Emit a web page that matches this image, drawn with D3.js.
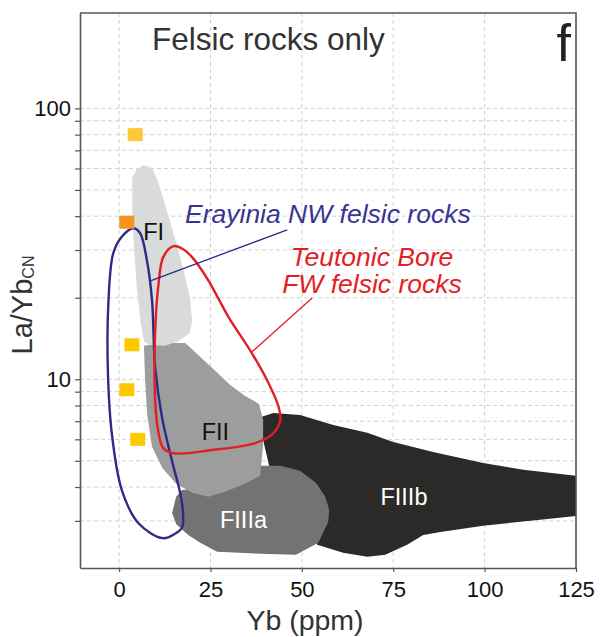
<!DOCTYPE html>
<html>
<head>
<meta charset="utf-8">
<script src="https://cdn.jsdelivr.net/npm/d3@7"></script>
<style>
  html, body { margin: 0; padding: 0; background: #fff; }
  svg { display: block; font-family: "Liberation Sans", Arial, sans-serif; }
</style>
</head>
<body>
<svg id="chart" width="600" height="637"></svg>
<script>
// Axis ticks
const xTicks = [0, 25, 50, 75, 100, 125];
const yLabelled = [10, 100];
const yGrid = [3, 4, 5, 6, 7, 8, 9, 10, 20, 30, 40, 50, 60, 70, 80, 90, 100];

// Felsic rock fields, [Yb ppm, La/Yb_CN]
const fieldFIIIb = [[38.0,7.20],[42.2,7.51],[49.5,7.38],[58.6,6.78],[67.9,6.34],[75.0,5.87],[85.9,5.39],[99.6,4.91],[110.6,4.63],[125.5,4.40],[125.5,3.13],[115.2,3.03],[99.6,2.88],[87.9,2.73],[83.2,2.66],[78.8,2.45],[72.8,2.25],[67.9,2.21],[61.3,2.29],[54.2,2.45],[49.5,3.03],[41.3,4.63]];
const fieldFIIIa = [[15.6,3.68],[17.2,3.90],[22.2,3.97],[30.4,4.25],[38.6,4.79],[44.1,4.79],[49.5,4.59],[53.9,4.14],[56.4,3.68],[57.5,3.29],[57.2,2.97],[54.5,2.49],[48.4,2.25],[38.6,2.27],[26.8,2.31],[22.2,2.49],[18.9,2.66],[15.6,2.92],[14.5,3.21]];
const fieldFII = [[6.8,13.3],[12.6,13.6],[18.1,13.6],[24.9,11.2],[30.4,9.53],[34.5,8.68],[38.3,8.11],[39.4,7.08],[39.4,5.72],[38.6,4.40],[34.8,4.14],[29.6,3.87],[24.4,3.68],[20.0,3.81],[15.6,4.11],[11.8,4.71],[9.0,5.63],[7.7,7.38],[7.1,9.94]];
const fieldFI = [[3.6,55.3],[4.7,59.2],[6.6,61.8],[9.0,60.2],[10.7,53.5],[12.6,44.0],[15.1,33.8],[17.5,25.7],[19.4,19.95],[20.0,16.3],[19.2,14.8],[16.2,13.8],[12.6,13.3],[8.2,13.4],[6.8,13.8],[5.8,16.6],[4.9,21.4],[4.1,30.0],[3.6,42.1]];

// Outlines of the two sample groups
const erayiniaNW = [[3.9,36.1],[5.75,34.6],[7.6,27.5],[9.0,19.6],[9.85,11.1],[11.7,7.28],[14.4,5.04],[16.7,3.80],[17.5,3.20],[17.2,2.83],[15.3,2.69],[12.0,2.59],[5.3,2.94],[0.74,3.90],[-2.0,6.32],[-3.1,11.1],[-2.9,19.6],[-1.6,29.2],[0.74,33.6]];
const teutonicFW = [[14.9,31.0],[17.2,30.4],[19.9,28.3],[24.4,23.2],[29.9,17.0],[36.3,12.5],[40.9,9.67],[43.6,7.93],[44.1,7.08],[42.2,6.32],[37.2,5.81],[25.4,5.48],[14.9,5.33],[12.1,5.57],[10.8,6.32],[9.85,8.39],[9.85,14.8],[10.8,22.6],[12.1,28.3]];

// Felsic samples
const samplesYb = [4.4, 2.1, 3.5, 2.1, 5.1];
const samplesLaYb = [80, 38, 13.4, 9.15, 6.0];
const samplesColor = ["#fec936", "#f7941d", "#fdc800", "#fdc800", "#fdc800"];

const svg = d3.select("#chart");
const mLeft = 80, mRight = 576, mTop = 13, mBottom = 568;

const x = d3.scaleLinear().domain([-10.7, 125]).range([mLeft, mRight]);
const y = d3.scaleLog().domain([2.01, 225]).range([mBottom, mTop]);

svg.append("defs").append("clipPath").attr("id", "plotclip")
  .append("rect").attr("x", mLeft).attr("y", mTop)
  .attr("width", mRight - mLeft).attr("height", mBottom - mTop);

// dashed grid
const grid = svg.append("g").attr("stroke", "#d2d2d2").attr("stroke-width", 1)
  .attr("stroke-dasharray", "4,3");
grid.selectAll("line.v").data(xTicks.filter(d => d < 125)).join("line")
  .attr("class", "v")
  .attr("x1", d => x(d)).attr("x2", d => x(d))
  .attr("y1", mTop).attr("y2", mBottom);
grid.selectAll("line.h").data(yGrid).join("line")
  .attr("class", "h")
  .attr("x1", mLeft).attr("x2", mRight)
  .attr("y1", d => y(d)).attr("y2", d => y(d));

const plot = svg.append("g").attr("clip-path", "url(#plotclip)");
const poly = d3.line().x(d => x(d[0])).y(d => y(d[1])).curve(d3.curveLinearClosed);
const smooth = d3.line().x(d => x(d[0])).y(d => y(d[1])).curve(d3.curveCatmullRomClosed.alpha(0.5));

const fields = [
  { pts: fieldFIIIb, fill: "#2b2a29" },
  { pts: fieldFIIIa, fill: "#737373" },
  { pts: fieldFII, fill: "#9c9d9d" },
  { pts: fieldFI, fill: "#d9dada" }
];
plot.selectAll("path.field").data(fields).join("path")
  .attr("class", "field")
  .attr("d", d => poly(d.pts))
  .attr("fill", d => d.fill);

// field names
const fieldLabels = [
  { t: "FI", x: 6.6, y: 32.7, c: "#111" },
  { t: "FII", x: 22.6, y: 5.98, c: "#111" },
  { t: "FIIIa", x: 27.6, y: 2.82, c: "#fff" },
  { t: "FIIIb", x: 71.5, y: 3.42, c: "#fff" }
];
svg.selectAll("text.field").data(fieldLabels).join("text")
  .attr("class", "field")
  .attr("x", d => x(d.x)).attr("y", d => y(d.y))
  .attr("fill", d => d.c).attr("font-size", 23.5)
  .text(d => d.t);

// samples
const samples = samplesYb.map((v, i) => ({ yb: v, la: samplesLaYb[i], c: samplesColor[i] }));
svg.selectAll("rect.s").data(samples).join("rect")
  .attr("class", "s")
  .attr("x", d => x(d.yb) - 7.5).attr("y", d => y(d.la) - 6.5)
  .attr("width", 15).attr("height", 13)
  .attr("fill", d => d.c);

// outlines
plot.append("path").attr("d", smooth(erayiniaNW))
  .attr("fill", "none").attr("stroke", "#2e2a86").attr("stroke-width", 2.4);
plot.append("path").attr("d", smooth(teutonicFW))
  .attr("fill", "none").attr("stroke", "#e31e24").attr("stroke-width", 2.4);

// leader lines
svg.append("line")
  .attr("x1", x(8.2)).attr("y1", y(23.0)).attr("x2", x(46.0)).attr("y2", y(35.6))
  .attr("stroke", "#2e2a86").attr("stroke-width", 1.3);
svg.append("line")
  .attr("x1", x(36.3)).attr("y1", y(12.6)).attr("x2", x(52.8)).attr("y2", y(19.95))
  .attr("stroke", "#e31e24").attr("stroke-width", 1.3);

// group names
svg.append("text").attr("x", 185).attr("y", 223)
  .attr("font-size", 26.5).attr("font-style", "italic").attr("fill", "#3a3591")
  .text("Erayinia NW felsic rocks");
const tb = svg.append("text").attr("font-size", 26.5).attr("font-style", "italic")
  .attr("fill", "#e31e24").attr("text-anchor", "middle");
tb.append("tspan").attr("x", 372).attr("y", 266).text("Teutonic Bore");
tb.append("tspan").attr("x", 372).attr("y", 293).text("FW felsic rocks");

// axes
const axisColor = "#555";
const xAxis = svg.append("g").attr("transform", `translate(0,${mBottom})`)
  .call(d3.axisBottom(x).tickValues(xTicks).tickSize(4).tickSizeOuter(0).tickPadding(9));
const yAxis = svg.append("g").attr("transform", `translate(${mLeft},0)`)
  .call(d3.axisLeft(y).tickValues(yGrid).tickSize(5).tickSizeOuter(0).tickPadding(4)
    .tickFormat(d => yLabelled.includes(d) ? d : ""));
[xAxis, yAxis].forEach(a => {
  a.select(".domain").attr("stroke", axisColor).attr("stroke-width", 1.6);
  a.selectAll(".tick line").attr("stroke", axisColor).attr("stroke-width", 1.2);
  a.selectAll(".tick text").attr("font-size", 22).attr("fill", "#111")
    .attr("font-family", "Liberation Sans, Arial, sans-serif");
});
// frame top and right
svg.append("path")
  .attr("d", `M${mLeft},${mTop}H${mRight}V${mBottom}`)
  .attr("fill", "none").attr("stroke", axisColor).attr("stroke-width", 1.6);

// titles
svg.append("text").attr("x", 152).attr("y", 50).attr("font-size", 31.5)
  .attr("fill", "#333").text("Felsic rocks only");
svg.append("text").attr("x", 571).attr("y", 61).attr("font-size", 52)
  .attr("text-anchor", "end").attr("fill", "#222").text("f");
svg.append("text").attr("x", 305).attr("y", 630)
  .attr("text-anchor", "middle").attr("font-size", 28.5).attr("fill", "#333")
  .text("Yb (ppm)");
const yl = svg.append("text").attr("transform", "translate(32,305) rotate(-90)")
  .attr("text-anchor", "middle").attr("font-size", 29).attr("fill", "#333");
yl.append("tspan").text("La/Yb");
yl.append("tspan").attr("font-size", 16).attr("dy", 2).text("CN");
</script>
</body>
</html>
